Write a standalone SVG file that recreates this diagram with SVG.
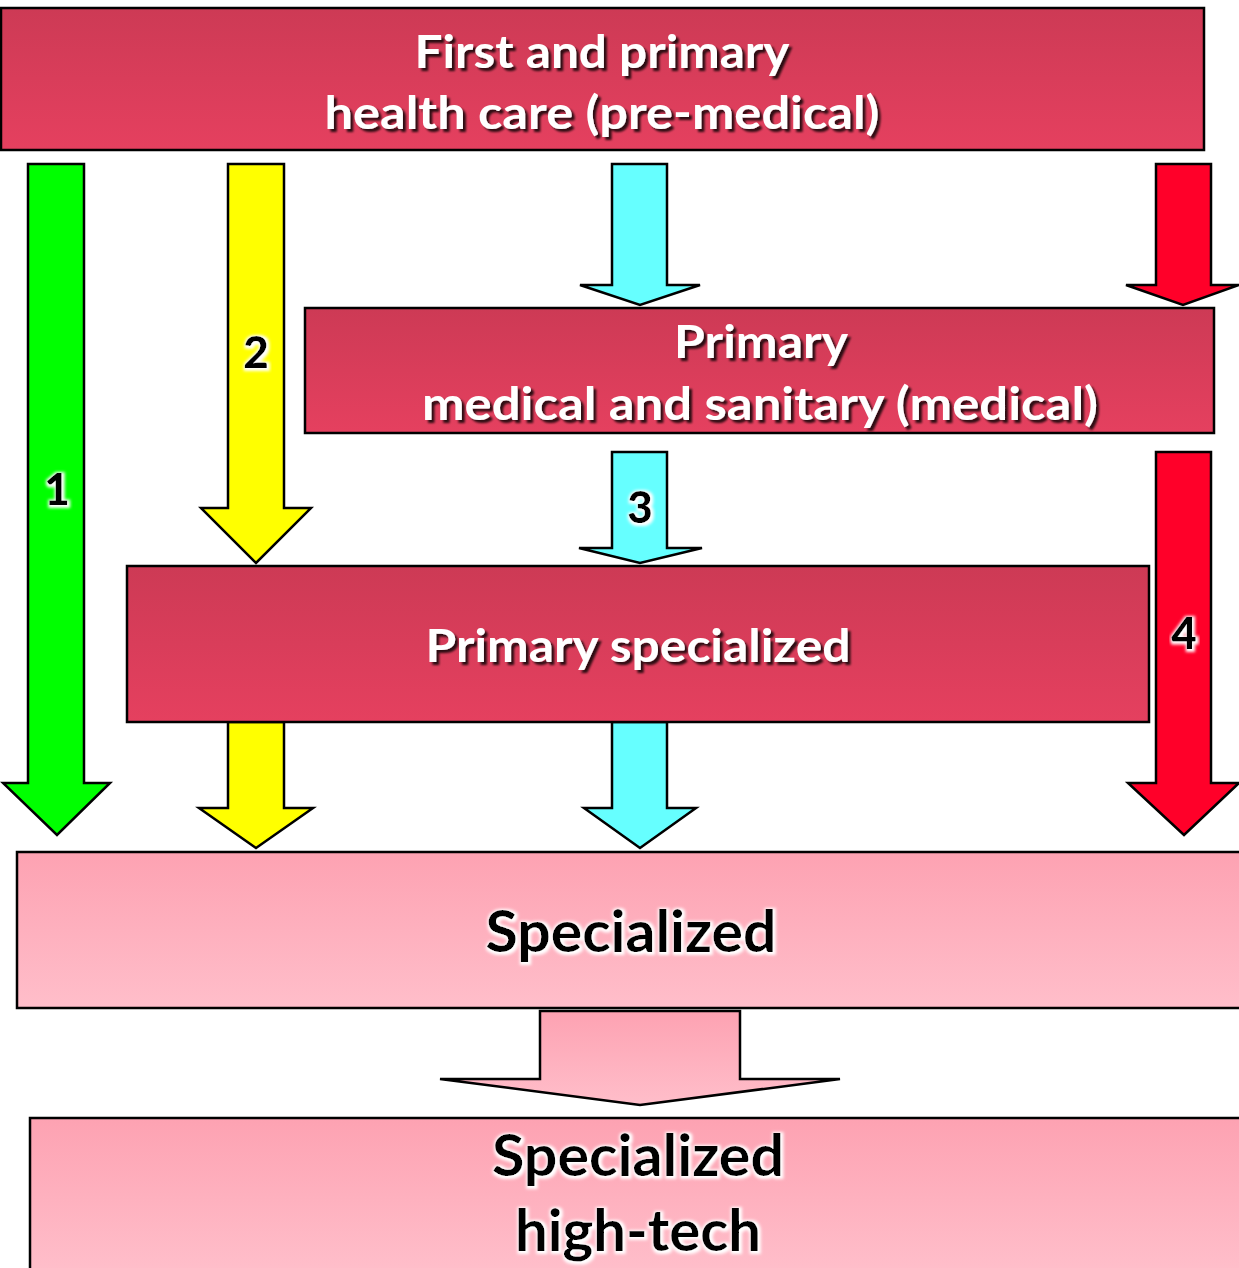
<svg xmlns="http://www.w3.org/2000/svg" width="1239" height="1268" viewBox="0 0 1239 1268">
<style>
.box{stroke:#000;stroke-width:2.5}
.arr{stroke:#000;stroke-width:2.5;stroke-linejoin:miter}
.wt{font-family:Lato,"Open Sans",sans-serif;font-weight:bold;fill:#fff;text-anchor:middle;filter:url(#sh)}
.bt{font-family:Lato,"Open Sans",sans-serif;font-weight:bold;fill:#000;text-anchor:middle;filter:url(#glow)}
.num{font-family:Lato,"Open Sans",sans-serif;font-weight:900;font-size:44px;fill:#000;text-anchor:middle;filter:url(#glow)}
</style>
<defs>
<linearGradient id="red" x1="0" y1="0" x2="0" y2="1"><stop offset="0" stop-color="#CD3A55"/><stop offset="1" stop-color="#E5405F"/></linearGradient>
<linearGradient id="pink" x1="0" y1="0" x2="0" y2="1"><stop offset="0" stop-color="#FDA2B2"/><stop offset="1" stop-color="#FFBECA"/></linearGradient>
<filter id="sh" x="-10%" y="-20%" width="120%" height="150%"><feGaussianBlur in="SourceAlpha" stdDeviation="1"/><feOffset dx="2.5" dy="2.5" result="o"/><feComponentTransfer><feFuncA type="linear" slope="0.8"/></feComponentTransfer><feMerge><feMergeNode/><feMergeNode in="SourceGraphic"/></feMerge></filter>
<filter id="glow" x="-10%" y="-20%" width="120%" height="150%"><feMorphology in="SourceAlpha" operator="dilate" radius="1.5"/><feGaussianBlur stdDeviation="1.5"/><feOffset dx="1" dy="1"/><feComponentTransfer><feFuncR type="linear" slope="0" intercept="1"/><feFuncG type="linear" slope="0" intercept="1"/><feFuncB type="linear" slope="0" intercept="1"/></feComponentTransfer><feMerge><feMergeNode/><feMergeNode in="SourceGraphic"/></feMerge></filter>
</defs>
<rect width="1239" height="1268" fill="#fff"/>
<g id="connectors">
<path class="arr" fill="#00FF00" d="M28,164 H84 V783 H110 L57,835 L3,783 H28 Z"/>
<path class="arr" fill="#FFFF00" d="M228,164 H284 V508 H311 L256,563 L201,508 H228 Z"/>
<path class="arr" fill="#66FFFF" d="M612,164 H667 V285 H700 L640,305 L580,285 H612 Z"/>
<path class="arr" fill="#FF0029" d="M1156,164 H1211 V285 H1239 L1183,305 L1126,285 H1156 Z"/>
<path class="arr" fill="#66FFFF" d="M612,452 H667 V548 H702 L640,563 L579,548 H612 Z"/>
<path class="arr" fill="#FF0029" d="M1156,452 H1211 V783 H1239 L1184,835 L1128,783 H1156 Z"/>
<path class="arr" fill="#FFFF00" d="M228,722 H284 V808 H313 L256,848 L199,808 H228 Z"/>
<path class="arr" fill="#66FFFF" d="M612,722 H667 V808 H696 L640,848 L584,808 H612 Z"/>
<path class="arr" fill="url(#pink)" d="M540,1011 H740 V1079 H840 L640,1105 L440,1079 H540 Z"/>
<text class="num" x="57" y="505">1</text>
<text class="num" x="256" y="368">2</text>
<text class="num" x="640" y="523">3</text>
<text class="num" x="1184" y="649">4</text>
</g>
<g id="n1">
<rect class="box" x="1" y="8" width="1203" height="142" fill="url(#red)"/>
<text class="wt" x="602" y="68" font-size="46" textLength="375" lengthAdjust="spacingAndGlyphs">First and primary</text>
<text class="wt" x="602" y="129" font-size="46" textLength="555" lengthAdjust="spacingAndGlyphs">health care (pre-medical)</text>
</g>
<g id="n2">
<rect class="box" x="305" y="308" width="909" height="125" fill="url(#red)"/>
<text class="wt" x="761" y="358" font-size="46" textLength="174" lengthAdjust="spacingAndGlyphs">Primary</text>
<text class="wt" x="760" y="420" font-size="46" textLength="676" lengthAdjust="spacingAndGlyphs">medical and sanitary (medical)</text>
</g>
<g id="n3">
<rect class="box" x="127" y="566" width="1022" height="156" fill="url(#red)"/>
<text class="wt" x="638" y="662" font-size="46" textLength="425" lengthAdjust="spacingAndGlyphs">Primary specialized</text>
</g>
<g id="n4">
<rect class="box" x="17" y="852" width="1224" height="156" fill="url(#pink)"/>
<text class="bt" x="631" y="952" font-size="58" textLength="291" lengthAdjust="spacingAndGlyphs">Specialized</text>
</g>
<g id="n5">
<rect class="box" x="30" y="1118" width="1211" height="152" fill="url(#pink)"/>
<text class="bt" x="638" y="1176" font-size="58" textLength="292" lengthAdjust="spacingAndGlyphs">Specialized</text>
<text class="bt" x="638" y="1251" font-size="58" textLength="246" lengthAdjust="spacingAndGlyphs">high-tech</text>
</g>
</svg>
